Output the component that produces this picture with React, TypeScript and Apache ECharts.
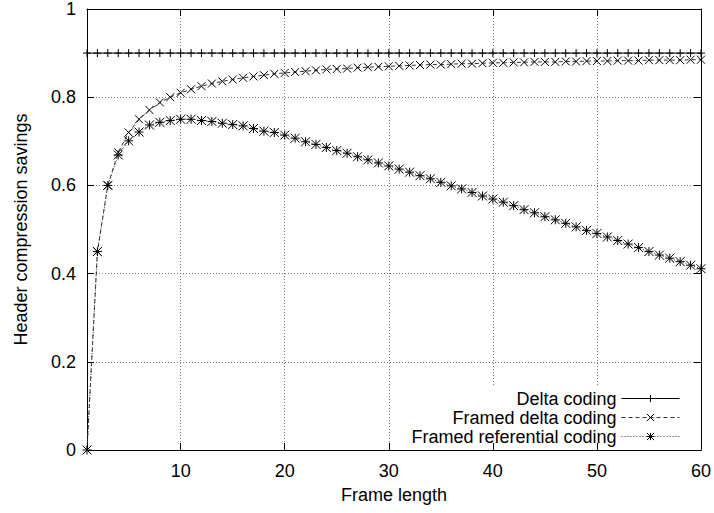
import React, { useEffect, useRef } from "react";
import * as echarts from "echarts";

const frameLengths = [
  1, 2, 3, 4, 5, 6, 7, 8, 9, 10,
  11, 12, 13, 14, 15, 16, 17, 18, 19, 20,
  21, 22, 23, 24, 25, 26, 27, 28, 29, 30,
  31, 32, 33, 34, 35, 36, 37, 38, 39, 40,
  41, 42, 43, 44, 45, 46, 47, 48, 49, 50,
  51, 52, 53, 54, 55, 56, 57, 58, 59, 60,
];

const deltaCoding = [
  0.9, 0.9, 0.9, 0.9, 0.9, 0.9, 0.9, 0.9, 0.9, 0.9,
  0.9, 0.9, 0.9, 0.9, 0.9, 0.9, 0.9, 0.9, 0.9, 0.9,
  0.9, 0.9, 0.9, 0.9, 0.9, 0.9, 0.9, 0.9, 0.9, 0.9,
  0.9, 0.9, 0.9, 0.9, 0.9, 0.9, 0.9, 0.9, 0.9, 0.9,
  0.9, 0.9, 0.9, 0.9, 0.9, 0.9, 0.9, 0.9, 0.9, 0.9,
  0.9, 0.9, 0.9, 0.9, 0.9, 0.9, 0.9, 0.9, 0.9, 0.9,
];

const framedDeltaCoding = [
  0, 0.45, 0.6, 0.675, 0.72, 0.75, 0.771, 0.788, 0.8, 0.81,
  0.818, 0.825, 0.831, 0.836, 0.84, 0.844, 0.847, 0.85, 0.853, 0.855,
  0.857, 0.859, 0.861, 0.863, 0.864, 0.865, 0.867, 0.868, 0.869, 0.87,
  0.871, 0.872, 0.873, 0.874, 0.874, 0.875, 0.876, 0.876, 0.877, 0.878,
  0.878, 0.879, 0.879, 0.88, 0.88, 0.88, 0.881, 0.881, 0.882, 0.882,
  0.882, 0.883, 0.883, 0.883, 0.884, 0.884, 0.884, 0.884, 0.885, 0.885,
];

const framedReferentialCoding = [
  0, 0.45, 0.6, 0.669, 0.701, 0.721, 0.737, 0.743, 0.747, 0.75,
  0.75, 0.747, 0.745, 0.741, 0.738, 0.735, 0.729, 0.723, 0.72, 0.714,
  0.707, 0.699, 0.693, 0.686, 0.679, 0.673, 0.665, 0.658, 0.651, 0.644,
  0.637, 0.63, 0.622, 0.615, 0.607, 0.599, 0.592, 0.584, 0.576, 0.569,
  0.562, 0.554, 0.545, 0.538, 0.529, 0.522, 0.514, 0.506, 0.498, 0.491,
  0.483, 0.475, 0.467, 0.459, 0.45, 0.442, 0.435, 0.427, 0.419, 0.411,
];

const seriesNames = ["Delta coding", "Framed delta coding", "Framed referential coding"];
const yTicks = [0, 0.2, 0.4, 0.6, 0.8, 1];
const xTicks = [10, 20, 30, 40, 50, 60];

const FONT = "'Liberation Sans', Arial, Helvetica, sans-serif";
const FS = 18;

const PLUS = "path://M0 5L10 5M5 0L5 10";
const CROSS = "path://M0 0L10 10M10 0L0 10";
const STAR = "path://M0 0L10 10M10 0L0 10M5 0L5 10M0 5L10 5";

function pairs(ys: number[]) {
  return frameLengths.map((x, i) => [x, ys[i]]);
}

export default function App() {
  const ref = useRef<HTMLDivElement>(null);
  useEffect(() => {
    if (!ref.current) return;
    const chart = echarts.init(ref.current, null, { renderer: "svg" });
    const gridLine = { show: true, lineStyle: { color: "#7a7a7a", width: 1, type: [1, 2] } };
    const axisLine = { show: true, onZero: false, lineStyle: { color: "#000", width: 1 } };
    const tick = { show: true, inside: true, length: 7, lineStyle: { color: "#000", width: 1 } };
    const markerStyle = { color: "transparent", borderColor: "#000", borderWidth: 1 };
    chart.setOption({
      animation: false,
      backgroundColor: "#fff",
      textStyle: { fontFamily: FONT },
      grid: { left: 87, right: 11, top: 9, bottom: 63, containLabel: false },
      legend: {
        orient: "vertical",
        align: "right",
        right: 26,
        bottom: 65,
        padding: [3, 8, 2, 8],
        backgroundColor: "#fff",
        itemWidth: 58,
        itemHeight: 9,
        itemGap: 0,
        selectedMode: false,
        data: seriesNames,
        lineStyle: { width: 1 },
        itemStyle: { borderWidth: 1 },
        textStyle: { fontFamily: FONT, fontSize: FS, color: "#000", lineHeight: 19 },
      },
      xAxis: [
        {
          type: "value",
          position: "bottom",
          min: 1,
          max: 60,
          splitNumber: 6,
          z: 10,
          axisLine,
          axisTick: tick,
          splitLine: { show: false },
          axisLabel: {
            margin: 12,
            fontSize: FS,
            color: "#000",
            fontFamily: FONT,
            showMinLabel: true,
            formatter: (v: number) => (xTicks.indexOf(v) >= 0 ? String(v) : ""),
          },
          name: "Frame length",
          nameLocation: "middle",
          nameGap: 36,
          nameTextStyle: { fontSize: FS, color: "#000", fontFamily: FONT },
        },
        {
          type: "value",
          position: "top",
          min: 1,
          max: 60,
          splitNumber: 6,
          axisLine,
          axisTick: tick,
          axisLabel: { show: false },
          splitLine: gridLine,
        },
      ],
      yAxis: [
        {
          type: "value",
          position: "left",
          min: yTicks[0],
          max: yTicks[yTicks.length - 1],
          interval: 0.2,
          axisLine,
          axisTick: tick,
          splitLine: gridLine,
          axisLabel: { margin: 11, fontSize: FS, color: "#000", fontFamily: FONT },
          name: "Header compression savings",
          nameLocation: "middle",
          nameGap: 57,
          nameTextStyle: { fontSize: FS, color: "#000", fontFamily: FONT },
        },
        {
          type: "value",
          position: "right",
          min: yTicks[0],
          max: yTicks[yTicks.length - 1],
          interval: 0.2,
          axisLine,
          axisTick: tick,
          splitLine: { show: false },
          axisLabel: { show: false },
        },
      ],
      series: [
        {
          name: seriesNames[0],
          type: "line",
          data: pairs(deltaCoding),
          symbol: PLUS,
          symbolSize: 8,
          showSymbol: true,
          showAllSymbol: true,
          lineStyle: { color: "#000", width: 1, type: "solid" },
          itemStyle: markerStyle,
          z: 3,
        },
        {
          name: seriesNames[1],
          type: "line",
          data: pairs(framedDeltaCoding),
          symbol: CROSS,
          symbolSize: 8,
          showSymbol: true,
          showAllSymbol: true,
          lineStyle: { color: "#333", width: 1, type: [4, 3] },
          itemStyle: markerStyle,
          z: 3,
        },
        {
          name: seriesNames[2],
          type: "line",
          data: pairs(framedReferentialCoding),
          symbol: STAR,
          symbolSize: 9,
          showSymbol: true,
          showAllSymbol: true,
          lineStyle: { color: "#333", width: 1, type: [1, 2] },
          itemStyle: markerStyle,
          z: 3,
        },
      ],
    });
    return () => chart.dispose();
  }, []);
  return (
    <div
      ref={ref}
      style={{ position: "fixed", left: 0, top: 0, width: 714, height: 513, background: "#fff" }}
    />
  );
}
